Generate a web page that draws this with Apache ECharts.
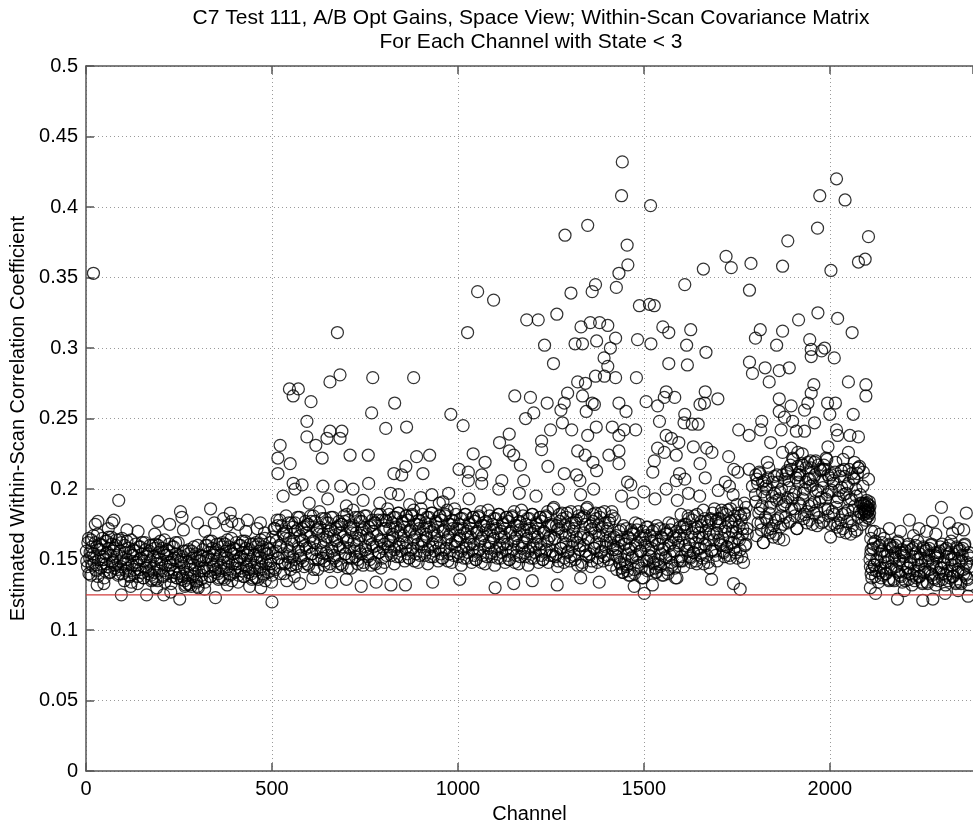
<!DOCTYPE html>
<html>
<head>
<meta charset="utf-8">
<script src="https://cdn.jsdelivr.net/npm/echarts@6/dist/echarts.min.js"></script>
<style>
html,body{margin:0;padding:0;background:#fff;}
#chart{width:973px;height:829px;}
</style>
</head>
<body>
<div id="chart"></div>
<script>
// ---------------- DATA (channel, estimated within-scan correlation coefficient) ----------------
const titleLines = ['C7 Test 111, A/B Opt Gains, Space View; Within-Scan Covariance Matrix', 'For Each Channel with State < 3'];
const xAxisTitle = 'Channel';
const yAxisTitle = 'Estimated Within-Scan Correlation Coefficient';
const thresholdValue = 0.125;

const bandSeg1 = [[1,.156],[4,.145],[7,.165],[10,.151],[13,.139],[16,.159],[19,.154],[22,.148],[25,.162],[28,.142],[31,.168],[34,.150],[37,.157],[40,.144],[43,.160],[46,.152],[49,.137],[52,.163],[55,.147],[58,.155],[61,.166],[64,.141],[67,.153],[70,.161],[73,.149],[76,.158],[79,.146],[82,.164],[85,.143],[88,.140],[91,.156],[94,.145],[97,.165],[100,.147],[103,.135],[106,.155],[109,.150],[112,.144],[115,.158],[118,.138],[121,.164],[124,.146],[127,.153],[130,.140],[133,.156],[136,.148],[139,.133],[142,.159],[145,.143],[148,.151],[151,.162],[154,.137],[157,.149],[160,.157],[163,.145],[166,.154],[169,.142],[172,.160],[175,.139],[178,.136],[181,.152],[184,.141],[187,.161],[190,.147],[193,.135],[196,.155],[199,.150],[202,.144],[205,.158],[208,.138],[211,.164],[214,.146],[217,.153],[220,.140],[223,.156],[226,.148],[229,.133],[232,.159],[235,.143],[238,.151],[241,.162],[244,.137],[247,.149],[250,.153],[253,.141],[256,.150],[259,.138],[262,.156],[265,.135],[268,.132],[271,.148],[274,.137],[277,.157],[280,.143],[283,.131],[286,.151],[289,.146],[292,.140],[295,.154],[298,.134],[301,.160],[304,.142],[307,.149],[310,.136],[313,.152],[316,.144],[319,.129],[322,.160],[325,.144],[328,.152],[331,.163],[334,.138],[337,.150],[340,.158],[343,.146],[346,.155],[349,.143],[352,.161],[355,.140],[358,.137],[361,.153],[364,.142],[367,.162],[370,.148],[373,.136],[376,.156],[379,.151],[382,.145],[385,.159],[388,.139],[391,.165],[394,.147],[397,.154],[400,.141],[403,.157],[406,.149],[409,.134],[412,.160],[415,.144],[418,.152],[421,.163],[424,.138],[427,.150],[430,.158],[433,.146],[436,.155],[439,.143],[442,.161],[445,.140],[448,.137],[451,.153],[454,.142],[457,.162],[460,.148],[463,.136],[466,.156],[469,.151],[472,.145],[475,.159],[478,.139],[481,.165],[484,.147],[487,.154],[490,.141],[493,.157],[496,.149],[499,.134]];

const bandSeg1b = [[2,.149],[5,.162],[8,.140],[11,.155],[14,.164],[17,.146],[20,.167],[23,.152],[26,.143],[29,.159],[32,.138],[35,.157],[38,.161],[41,.147],[44,.165],[47,.150],[50,.142],[53,.154],[56,.163],[59,.145],[62,.158],[65,.141],[68,.166],[71,.148],[74,.156],[77,.144],[80,.160],[83,.153],[86,.139],[89,.164],[92,.149],[95,.162],[98,.140],[101,.151],[104,.160],[107,.142],[110,.163],[113,.148],[116,.139],[119,.155],[122,.134],[125,.153],[128,.157],[131,.143],[134,.161],[137,.146],[140,.138],[143,.150],[146,.159],[149,.141],[152,.154],[155,.137],[158,.162],[161,.144],[164,.152],[167,.140],[170,.156],[173,.149],[176,.135],[179,.160],[182,.145],[185,.158],[188,.136],[191,.151],[194,.160],[197,.142],[200,.163],[203,.148],[206,.139],[209,.155],[212,.134],[215,.153],[218,.157],[221,.143],[224,.161],[227,.146],[230,.138],[233,.150],[236,.159],[239,.141],[242,.154],[245,.137],[248,.162],[251,.140],[254,.148],[257,.136],[260,.152],[263,.145],[266,.131],[269,.156],[272,.141],[275,.154],[278,.132],[281,.147],[284,.156],[287,.138],[290,.159],[293,.144],[296,.135],[299,.151],[302,.130],[305,.149],[308,.153],[311,.139],[314,.157],[317,.142],[320,.134],[323,.151],[326,.160],[329,.142],[332,.155],[335,.138],[338,.163],[341,.145],[344,.153],[347,.141],[350,.157],[353,.150],[356,.136],[359,.161],[362,.146],[365,.159],[368,.137],[371,.152],[374,.161],[377,.143],[380,.164],[383,.149],[386,.140],[389,.156],[392,.135],[395,.154],[398,.158],[401,.144],[404,.162],[407,.147],[410,.139],[413,.151],[416,.160],[419,.142],[422,.155],[425,.138],[428,.163],[431,.145],[434,.153],[437,.141],[440,.157],[443,.150],[446,.136],[449,.161],[452,.146],[455,.159],[458,.137],[461,.152],[464,.161],[467,.143],[470,.164],[473,.149],[476,.140],[479,.156],[482,.135],[485,.154],[488,.158],[491,.144],[494,.162],[497,.147],[500,.139]];

const bandSeg2 = [[502,.166],[505,.144],[508,.172],[511,.156],[514,.178],[517,.151],[520,.160],[523,.140],[526,.174],[529,.154],[532,.169],[535,.147],[538,.181],[541,.159],[544,.148],[547,.165],[550,.143],[553,.176],[556,.152],[559,.163],[562,.176],[565,.145],[568,.171],[571,.158],[574,.180],[577,.153],[580,.164],[583,.149],[586,.173],[589,.160],[592,.169],[595,.147],[598,.175],[601,.159],[604,.181],[607,.154],[610,.163],[613,.143],[616,.177],[619,.157],[622,.172],[625,.150],[628,.184],[631,.162],[634,.151],[637,.168],[640,.146],[643,.179],[646,.155],[649,.166],[652,.176],[655,.145],[658,.171],[661,.158],[664,.180],[667,.153],[670,.164],[673,.149],[676,.173],[679,.160],[682,.169],[685,.147],[688,.175],[691,.159],[694,.181],[697,.154],[700,.164],[703,.144],[706,.178],[709,.158],[712,.173],[715,.151],[718,.185],[721,.163],[724,.152],[727,.169],[730,.147],[733,.180],[736,.156],[739,.167],[742,.177],[745,.146],[748,.172],[751,.159],[754,.181],[757,.154],[760,.165],[763,.150],[766,.174],[769,.161],[772,.170],[775,.148],[778,.176],[781,.160],[784,.182],[787,.155],[790,.164],[793,.144],[796,.178],[799,.158]];

const bandSeg2b = [[503,.155],[506,.172],[509,.143],[512,.163],[515,.174],[518,.151],[521,.178],[524,.159],[527,.147],[530,.168],[533,.140],[536,.165],[539,.170],[542,.152],[545,.176],[548,.156],[551,.146],[554,.161],[557,.173],[560,.150],[563,.170],[566,.147],[569,.180],[572,.156],[575,.167],[578,.151],[581,.172],[584,.163],[587,.145],[590,.177],[593,.158],[596,.175],[599,.146],[602,.166],[605,.177],[608,.154],[611,.181],[614,.162],[617,.150],[620,.171],[623,.143],[626,.168],[629,.173],[632,.155],[635,.179],[638,.159],[641,.149],[644,.164],[647,.176],[650,.153],[653,.170],[656,.147],[659,.180],[662,.156],[665,.167],[668,.151],[671,.172],[674,.163],[677,.145],[680,.177],[683,.158],[686,.175],[689,.146],[692,.166],[695,.177],[698,.154],[701,.182],[704,.163],[707,.151],[710,.172],[713,.144],[716,.169],[719,.174],[722,.156],[725,.180],[728,.160],[731,.150],[734,.165],[737,.177],[740,.154],[743,.171],[746,.148],[749,.181],[752,.157],[755,.168],[758,.152],[761,.173],[764,.164],[767,.146],[770,.178],[773,.159],[776,.176],[779,.147],[782,.167],[785,.178],[788,.155],[791,.182],[794,.163],[797,.151],[800,.172]];

const bandSeg3 = [[802,.161],[805,.178],[808,.153],[811,.186],[814,.163],[817,.172],[820,.156],[823,.176],[826,.166],[829,.147],[832,.180],[835,.159],[838,.170],[841,.183],[844,.152],[847,.167],[850,.177],[853,.162],[856,.173],[859,.158],[862,.181],[865,.154],[868,.151],[871,.171],[874,.157],[877,.182],[880,.164],[883,.149],[886,.175],[889,.168],[892,.161],[895,.178],[898,.153],[901,.186],[904,.163],[907,.172],[910,.156],[913,.176],[916,.166],[919,.147],[922,.180],[925,.159],[928,.170],[931,.183],[934,.152],[937,.167],[940,.177],[943,.162],[946,.173],[949,.158],[952,.181],[955,.154],[958,.151],[961,.171],[964,.157],[967,.182],[970,.164],[973,.149],[976,.175],[979,.168],[982,.161],[985,.178],[988,.153],[991,.186],[994,.163],[997,.172],[1000,.155],[1003,.175],[1006,.165],[1009,.146],[1012,.179],[1015,.158],[1018,.169],[1021,.182],[1024,.151],[1027,.166],[1030,.176],[1033,.161],[1036,.172],[1039,.157],[1042,.180],[1045,.153],[1048,.150],[1051,.170],[1054,.156],[1057,.181],[1060,.163],[1063,.148],[1066,.174],[1069,.167],[1072,.160],[1075,.177],[1078,.152],[1081,.185],[1084,.162],[1087,.171],[1090,.155],[1093,.175],[1096,.165],[1099,.146],[1102,.179],[1105,.158],[1108,.169],[1111,.182],[1114,.151],[1117,.166],[1120,.176],[1123,.161],[1126,.172],[1129,.157],[1132,.180],[1135,.153],[1138,.150],[1141,.170],[1144,.156],[1147,.181],[1150,.163],[1153,.148],[1156,.174],[1159,.167],[1162,.160],[1165,.177],[1168,.152],[1171,.185],[1174,.162],[1177,.171],[1180,.155],[1183,.175],[1186,.165],[1189,.146],[1192,.179],[1195,.158],[1198,.169],[1201,.182],[1204,.151],[1207,.166],[1210,.176],[1213,.161],[1216,.172],[1219,.157],[1222,.180],[1225,.153],[1228,.150],[1231,.170],[1234,.156],[1237,.181],[1240,.163],[1243,.148],[1246,.174],[1249,.167]];

const bandSeg3b = [[803,.148],[806,.172],[809,.177],[812,.159],[815,.182],[818,.163],[821,.153],[824,.168],[827,.180],[830,.157],[833,.173],[836,.152],[839,.183],[842,.161],[845,.171],[848,.156],[851,.176],[854,.167],[857,.149],[860,.181],[863,.162],[866,.178],[869,.151],[872,.170],[875,.181],[878,.158],[881,.185],[884,.166],[887,.154],[890,.175],[893,.148],[896,.172],[899,.177],[902,.159],[905,.182],[908,.163],[911,.153],[914,.168],[917,.180],[920,.157],[923,.173],[926,.152],[929,.183],[932,.161],[935,.171],[938,.156],[941,.176],[944,.167],[947,.149],[950,.181],[953,.162],[956,.178],[959,.151],[962,.170],[965,.181],[968,.158],[971,.185],[974,.166],[977,.154],[980,.175],[983,.148],[986,.172],[989,.177],[992,.159],[995,.182],[998,.163],[1001,.152],[1004,.167],[1007,.179],[1010,.156],[1013,.172],[1016,.151],[1019,.182],[1022,.160],[1025,.170],[1028,.155],[1031,.175],[1034,.166],[1037,.148],[1040,.180],[1043,.161],[1046,.177],[1049,.150],[1052,.169],[1055,.180],[1058,.157],[1061,.184],[1064,.165],[1067,.153],[1070,.174],[1073,.147],[1076,.171],[1079,.176],[1082,.158],[1085,.181],[1088,.162],[1091,.152],[1094,.167],[1097,.179],[1100,.156],[1103,.172],[1106,.151],[1109,.182],[1112,.160],[1115,.170],[1118,.155],[1121,.175],[1124,.166],[1127,.148],[1130,.180],[1133,.161],[1136,.177],[1139,.150],[1142,.169],[1145,.180],[1148,.157],[1151,.184],[1154,.165],[1157,.153],[1160,.174],[1163,.147],[1166,.171],[1169,.176],[1172,.158],[1175,.181],[1178,.162],[1181,.152],[1184,.167],[1187,.179],[1190,.156],[1193,.172],[1196,.151],[1199,.182],[1202,.160],[1205,.170],[1208,.155],[1211,.175],[1214,.166],[1217,.148],[1220,.180],[1223,.161],[1226,.177],[1229,.150],[1232,.169],[1235,.180],[1238,.157],[1241,.184],[1244,.165],[1247,.153],[1250,.174]];

const bandSeg4 = [[1252,.175],[1255,.153],[1258,.187],[1261,.165],[1264,.154],[1267,.171],[1270,.149],[1273,.182],[1276,.158],[1279,.169],[1282,.179],[1285,.148],[1288,.174],[1291,.161],[1294,.183],[1297,.156],[1300,.167],[1303,.152],[1306,.176],[1309,.163],[1312,.172],[1315,.150],[1318,.178],[1321,.162],[1324,.184],[1327,.157],[1330,.166],[1333,.146],[1336,.180],[1339,.160],[1342,.175],[1345,.153],[1348,.187],[1351,.165],[1354,.154],[1357,.171],[1360,.149],[1363,.182],[1366,.158],[1369,.169],[1372,.179],[1375,.148],[1378,.174],[1381,.161],[1384,.183],[1387,.156],[1390,.167],[1393,.152],[1396,.176],[1399,.163],[1402,.172],[1405,.150],[1408,.178],[1411,.162],[1414,.184],[1417,.157],[1420,.166]];

const bandSeg4b = [[1253,.156],[1256,.186],[1259,.165],[1262,.152],[1265,.174],[1268,.145],[1271,.172],[1274,.177],[1277,.158],[1280,.183],[1283,.162],[1286,.151],[1289,.167],[1292,.180],[1295,.155],[1298,.173],[1301,.149],[1304,.184],[1307,.159],[1310,.170],[1313,.153],[1316,.176],[1319,.166],[1322,.146],[1325,.181],[1328,.160],[1331,.179],[1334,.148],[1337,.169],[1340,.181],[1343,.156],[1346,.186],[1349,.165],[1352,.152],[1355,.174],[1358,.145],[1361,.172],[1364,.177],[1367,.158],[1370,.183],[1373,.162],[1376,.151],[1379,.167],[1382,.180],[1385,.155],[1388,.173],[1391,.149],[1394,.184],[1397,.159],[1400,.170],[1403,.153],[1406,.176],[1409,.166],[1412,.146],[1415,.181],[1418,.160],[1421,.179]];

const bandSeg5 = [[1423,.157],[1426,.167],[1429,.152],[1432,.163],[1435,.148],[1438,.171],[1441,.144],[1444,.141],[1447,.161],[1450,.147],[1453,.172],[1456,.154],[1459,.139],[1462,.165],[1465,.158],[1468,.151],[1471,.168],[1474,.143],[1477,.176],[1480,.153],[1483,.162],[1486,.146],[1489,.166],[1492,.156],[1495,.137],[1498,.170],[1501,.149],[1504,.160],[1507,.173],[1510,.142],[1513,.157],[1516,.167],[1519,.152],[1522,.163],[1525,.148],[1528,.171],[1531,.144],[1534,.141],[1537,.161],[1540,.147],[1543,.172],[1546,.154],[1549,.139],[1552,.165],[1555,.158],[1558,.151],[1561,.168],[1564,.143],[1567,.176],[1570,.153],[1573,.162],[1576,.146],[1579,.166],[1582,.156],[1585,.137],[1588,.170],[1591,.149],[1594,.160],[1597,.173]];

const bandSeg5b = [[1424,.153],[1427,.143],[1430,.158],[1433,.170],[1436,.147],[1439,.164],[1442,.141],[1445,.174],[1448,.150],[1451,.161],[1454,.145],[1457,.166],[1460,.157],[1463,.139],[1466,.171],[1469,.152],[1472,.169],[1475,.140],[1478,.160],[1481,.171],[1484,.148],[1487,.175],[1490,.156],[1493,.144],[1496,.165],[1499,.137],[1502,.162],[1505,.167],[1508,.149],[1511,.173],[1514,.153],[1517,.143],[1520,.158],[1523,.170],[1526,.147],[1529,.164],[1532,.141],[1535,.174],[1538,.150],[1541,.161],[1544,.145],[1547,.166],[1550,.157],[1553,.139],[1556,.171],[1559,.152],[1562,.169],[1565,.140],[1568,.160],[1571,.171],[1574,.148],[1577,.175],[1580,.156],[1583,.144],[1586,.165],[1589,.137],[1592,.162],[1595,.167],[1598,.149]];

const bandSeg6 = [[1600,.182],[1603,.149],[1606,.165],[1609,.175],[1612,.160],[1615,.172],[1618,.156],[1621,.179],[1624,.152],[1627,.148],[1630,.169],[1633,.155],[1636,.181],[1639,.162],[1642,.147],[1645,.173],[1648,.166],[1651,.158],[1654,.177],[1657,.151],[1660,.185],[1663,.161],[1666,.170],[1669,.153],[1672,.174],[1675,.164],[1678,.144],[1681,.178],[1684,.157],[1687,.168],[1690,.186],[1693,.153],[1696,.169],[1699,.179],[1702,.164],[1705,.176],[1708,.160],[1711,.183],[1714,.156],[1717,.152],[1720,.173],[1723,.159],[1726,.185],[1729,.166],[1732,.151],[1735,.177],[1738,.170],[1741,.162],[1744,.181],[1747,.155],[1750,.189],[1753,.165],[1756,.174],[1759,.157],[1762,.178],[1765,.168],[1768,.148],[1771,.182],[1774,.161],[1777,.172]];

const bandSeg6b = [[1601,.152],[1604,.173],[1607,.145],[1610,.170],[1613,.175],[1616,.157],[1619,.181],[1622,.161],[1625,.151],[1628,.166],[1631,.178],[1634,.155],[1637,.172],[1640,.149],[1643,.182],[1646,.158],[1649,.169],[1652,.153],[1655,.174],[1658,.165],[1661,.147],[1664,.179],[1667,.160],[1670,.177],[1673,.148],[1676,.168],[1679,.179],[1682,.156],[1685,.183],[1688,.164],[1691,.156],[1694,.177],[1697,.149],[1700,.174],[1703,.179],[1706,.161],[1709,.185],[1712,.165],[1715,.155],[1718,.170],[1721,.182],[1724,.159],[1727,.176],[1730,.153],[1733,.186],[1736,.162],[1739,.173],[1742,.157],[1745,.178],[1748,.169],[1751,.151],[1754,.183],[1757,.164],[1760,.181],[1763,.152],[1766,.172],[1769,.183],[1772,.160],[1775,.187],[1778,.168]];

const bandSeg7 = [[1800,.196],[1803,.167],[1806,.204],[1809,.183],[1812,.211],[1815,.176],[1818,.188],[1821,.162],[1824,.206],[1827,.180],[1830,.200],[1833,.171],[1836,.215],[1839,.187],[1842,.172],[1845,.195],[1848,.166],[1851,.209],[1854,.178],[1857,.192],[1860,.205],[1863,.165],[1866,.198],[1869,.181],[1872,.210],[1875,.175],[1878,.189],[1881,.180],[1884,.211],[1887,.194],[1890,.206],[1893,.177],[1896,.214],[1899,.193],[1902,.221],[1905,.186],[1908,.198],[1911,.172],[1914,.216],[1917,.190],[1920,.210],[1923,.181],[1926,.225],[1929,.197],[1932,.182],[1935,.205],[1938,.176],[1941,.219],[1944,.188],[1947,.202],[1950,.215],[1953,.175],[1956,.208],[1959,.191],[1962,.220],[1965,.185],[1968,.199],[1971,.180],[1974,.214],[1977,.194],[1980,.206],[1983,.177],[1986,.214],[1989,.193],[1992,.221],[1995,.186],[1998,.198],[2001,.175],[2004,.210],[2007,.184],[2010,.204],[2013,.175],[2016,.219],[2019,.191],[2022,.176],[2025,.199],[2028,.170],[2031,.213],[2034,.182],[2037,.196],[2040,.209],[2043,.169],[2046,.202],[2049,.185],[2052,.214],[2055,.179],[2058,.193],[2061,.174],[2064,.208],[2067,.188],[2070,.200],[2073,.171],[2076,.215],[2079,.184],[2082,.196],[2085,.183],[2088,.190],[2090,.186],[2092,.182],[2093,.190],[2095,.185],[2096,.178],[2097,.188],[2098,.183],[2099,.192],[2100,.180],[2101,.187],[2102,.184],[2103,.189],[2104,.181],[2105,.186],[2106,.179],[2107,.183],[2108,.188]];

const bandSeg7b = [[1801,.191],[1804,.207],[1807,.176],[1810,.212],[1813,.186],[1816,.171],[1819,.198],[1822,.162],[1825,.195],[1828,.202],[1831,.178],[1834,.208],[1837,.183],[1840,.169],[1843,.190],[1846,.205],[1849,.174],[1852,.197],[1855,.168],[1858,.210],[1861,.179],[1864,.193],[1867,.173],[1870,.200],[1873,.188],[1876,.164],[1879,.207],[1882,.191],[1885,.213],[1888,.176],[1891,.201],[1894,.217],[1897,.186],[1900,.222],[1903,.196],[1906,.181],[1909,.208],[1912,.172],[1915,.205],[1918,.212],[1921,.188],[1924,.218],[1927,.193],[1930,.179],[1933,.200],[1936,.215],[1939,.184],[1942,.207],[1945,.178],[1948,.220],[1951,.189],[1954,.203],[1957,.183],[1960,.210],[1963,.198],[1966,.174],[1969,.217],[1972,.191],[1975,.213],[1978,.176],[1981,.201],[1984,.217],[1987,.186],[1990,.222],[1993,.196],[1996,.181],[1999,.208],[2002,.166],[2005,.199],[2008,.206],[2011,.182],[2014,.212],[2017,.187],[2020,.173],[2023,.194],[2026,.209],[2029,.178],[2032,.201],[2035,.172],[2038,.214],[2041,.183],[2044,.197],[2047,.177],[2050,.204],[2053,.192],[2056,.168],[2059,.211],[2062,.185],[2065,.207],[2068,.170],[2071,.195],[2074,.211],[2077,.180],[2080,.216],[2083,.190],[2086,.175],[2089,.202],[2091,.189],[2094,.184],[2100,.190],[2103,.185],[2106,.191]];

const bandSeg8 = [[2110,.154],[2113,.137],[2116,.158],[2119,.146],[2122,.163],[2125,.142],[2128,.149],[2131,.134],[2134,.160],[2137,.144],[2140,.156],[2143,.139],[2146,.165],[2149,.148],[2152,.140],[2155,.153],[2158,.136],[2161,.161],[2164,.143],[2167,.151],[2170,.159],[2173,.135],[2176,.155],[2179,.145],[2182,.162],[2185,.141],[2188,.150],[2191,.138],[2194,.157],[2197,.147],[2200,.152],[2203,.135],[2206,.156],[2209,.144],[2212,.161],[2215,.140],[2218,.147],[2221,.132],[2224,.158],[2227,.142],[2230,.154],[2233,.137],[2236,.163],[2239,.146],[2242,.138],[2245,.151],[2248,.134],[2251,.159],[2254,.141],[2257,.149],[2260,.157],[2263,.133],[2266,.153],[2269,.143],[2272,.160],[2275,.139],[2278,.148],[2281,.136],[2284,.155],[2287,.145],[2290,.152],[2293,.135],[2296,.156],[2299,.144],[2302,.161],[2305,.140],[2308,.147],[2311,.132],[2314,.158],[2317,.142],[2320,.154],[2323,.137],[2326,.163],[2329,.146],[2332,.138],[2335,.151],[2338,.134],[2341,.159],[2344,.141],[2347,.149],[2350,.157],[2353,.133],[2356,.153],[2359,.143],[2362,.160],[2365,.139],[2368,.148],[2371,.136],[2374,.155],[2377,.145],[2108,.150],[2109,.130],[2109,.145],[2110,.165],[2111,.140],[2112,.170]];

const bandSeg8b = [[2111,.157],[2114,.143],[2117,.161],[2120,.146],[2123,.138],[2126,.150],[2129,.159],[2132,.141],[2135,.154],[2138,.137],[2141,.162],[2144,.144],[2147,.152],[2150,.140],[2153,.156],[2156,.149],[2159,.135],[2162,.160],[2165,.145],[2168,.158],[2171,.136],[2174,.151],[2177,.160],[2180,.142],[2183,.163],[2186,.148],[2189,.139],[2192,.155],[2195,.134],[2198,.153],[2201,.155],[2204,.141],[2207,.159],[2210,.144],[2213,.136],[2216,.148],[2219,.157],[2222,.139],[2225,.152],[2228,.135],[2231,.160],[2234,.142],[2237,.150],[2240,.138],[2243,.154],[2246,.147],[2249,.133],[2252,.158],[2255,.143],[2258,.156],[2261,.134],[2264,.149],[2267,.158],[2270,.140],[2273,.161],[2276,.146],[2279,.137],[2282,.153],[2285,.132],[2288,.151],[2291,.155],[2294,.141],[2297,.159],[2300,.144],[2303,.136],[2306,.148],[2309,.157],[2312,.139],[2315,.152],[2318,.135],[2321,.160],[2324,.142],[2327,.150],[2330,.138],[2333,.154],[2336,.147],[2339,.133],[2342,.158],[2345,.143],[2348,.156],[2351,.134],[2354,.149],[2357,.158],[2360,.140],[2363,.161],[2366,.146],[2369,.137],[2372,.153],[2375,.132],[2378,.151]];

const bandEdgePoints = [[20,.353],[88,.192],[25,.175],[60,.172],[70,.176],[110,.171],[140,.170],[185,.168],[225,.175],[254,.184],[258,.180],[262,.171],[300,.176],[320,.170],[335,.186],[345,.176],[370,.179],[388,.183],[392,.177],[410,.175],[430,.170],[460,.172],[480,.169],[32,.177],[75,.178],[193,.177],[380,.174],[434,.178],[469,.176],
[95,.125],[163,.125],[209,.125],[228,.127],[252,.122],[348,.123],[30,.132],[48,.133],[120,.131],[190,.130],[275,.133],[300,.131],[380,.132],[440,.131],[470,.130],[500,.120],
[540,.135],[575,.133],[610,.137],[660,.134],[700,.136],[740,.131],[780,.134],[560,.138],[820,.132],[859,.132],[932,.134],[1100,.130],[1267,.132],[1005,.136],[1150,.133],[1200,.135],[1330,.137],[1380,.134],
[1474,.131],[1501,.126],[1523,.132],[1456,.142],[1741,.133],[1759,.129],[1682,.136],
[2120,.170],[2135,.168],[2160,.172],[2190,.170],[2214,.178],[2240,.172],[2260,.170],[2276,.177],[2300,.187],[2321,.176],[2345,.172],[2367,.183],[2225,.167],[2285,.168],[2330,.169],[2360,.171],
[2123,.126],[2182,.122],[2200,.128],[2250,.121],[2277,.122],[2310,.126],[2345,.128],[2372,.124]];

const outliers500to930 = [[676,.311],[547,.271],[571,.271],[557,.266],[656,.276],[683,.281],[771,.279],[881,.279],[605,.262],[830,.261],[768,.254],[594,.248],[806,.243],[862,.244],[656,.241],[688,.241],[648,.236],[683,.236],[594,.237],[618,.231],[522,.231],[516,.222],[549,.218],[516,.211],[635,.222],[710,.224],[759,.224],[889,.223],[860,.216],[828,.211],[849,.210],[906,.211],[924,.224],[557,.204],[581,.203],[637,.202],[685,.202],[718,.200],[760,.204],[819,.197],[562,.200],
[530,.195],[600,.190],[650,.193],[700,.188],[745,.192],[790,.190],[840,.196],[870,.189],[900,.194],[950,.190],[975,.197]];

const outliers930to1405 = [[1349,.387],[1288,.380],[1053,.340],[1096,.334],[1304,.339],[1361,.340],[1370,.345],[1026,.311],[1185,.320],[1216,.320],[1266,.324],[1331,.315],[1356,.318],[1381,.318],[1403,.316],[1233,.302],[1315,.303],[1335,.303],[1373,.305],[1257,.289],[1393,.293],
[1403,.287],[1370,.280],[1394,.280],[1322,.276],[1343,.275],[1153,.266],[1195,.265],[1240,.261],[1286,.261],[1295,.268],[1335,.266],[1361,.261],[1367,.260],[981,.253],[1014,.245],[1204,.254],[1182,.250],[1277,.256],[1345,.255],[1281,.247],[1306,.242],[1349,.238],[1372,.244],[1249,.242],[1138,.239],[1112,.233],[1138,.227],[1150,.224],[1168,.217],[1177,.206],[1225,.234],[1225,.228],[1242,.216],[1322,.227],[1342,.224],[1363,.219],[1373,.213],[1319,.210],[1328,.206],[1286,.211],[1041,.225],[1073,.219],[1003,.214],[1028,.212],[1028,.206],[1064,.210],[1118,.206],[1064,.204],
[930,.196],[960,.191],[1030,.193],[1110,.200],[1165,.197],[1210,.195],[1270,.200],[1330,.196],[1365,.200]];

const outliers1405to1860 = [[1442,.432],[1440,.408],[1518,.401],[1455,.373],[1457,.359],[1433,.353],[1426,.343],[1660,.356],[1721,.365],[1735,.357],[1788,.360],[1784,.341],[1610,.345],[1488,.330],[1515,.331],[1528,.330],[1551,.315],[1567,.311],[1626,.313],[1615,.302],[1483,.306],[1519,.303],[1667,.297],[1813,.313],[1800,.307],[1857,.302],[1424,.307],[1410,.300],
[1480,.279],[1567,.289],[1617,.288],[1784,.290],[1792,.282],[1826,.286],[1837,.276],[1424,.279],[1433,.261],[1452,.255],[1506,.262],[1537,.259],[1560,.269],[1583,.265],[1555,.265],[1610,.253],[1608,.247],[1630,.246],[1646,.246],[1665,.269],[1663,.261],[1651,.260],[1699,.264],[1542,.248],[1560,.238],[1574,.236],[1594,.233],[1555,.226],[1528,.220],[1524,.212],[1537,.229],[1587,.224],[1633,.230],[1669,.229],[1683,.226],[1651,.218],[1665,.208],[1478,.242],[1447,.242],[1433,.238],[1415,.244],[1406,.224],[1433,.227],[1433,.218],[1456,.205],[1465,.203],[1596,.211],[1587,.206],[1610,.207],[1728,.223],[1742,.214],[1753,.212],[1719,.205],[1730,.202],[1755,.242],[1783,.238],[1817,.248],[1814,.242],[1841,.233],[1783,.214],[1801,.210],[1819,.205],[1792,.202],[1832,.219],
[1440,.195],[1470,.190],[1500,.198],[1530,.193],[1560,.200],[1590,.192],[1620,.197],[1650,.195],[1700,.199],[1740,.196],[1770,.190]];

const outliers1860to2110 = [[2018,.420],[1973,.408],[2041,.405],[1967,.385],[1887,.376],[2104,.379],[2077,.361],[2095,.363],[1873,.358],[2003,.355],[1968,.325],[1916,.320],[2021,.321],[2060,.311],[1873,.312],[1946,.306],[1950,.299],[1978,.298],[1986,.300],[1950,.294],[2012,.293],
[1891,.286],[1864,.284],[2050,.276],[2097,.274],[2097,.266],[1957,.274],[1950,.268],[1941,.261],[1896,.259],[1864,.264],[1994,.261],[2015,.261],[2000,.253],[2063,.253],[1932,.256],[1959,.247],[1900,.248],[1878,.251],[1864,.255],[1869,.242],[2018,.242],[2021,.238],[2054,.238],[2077,.237],[1910,.241],[1932,.241],[1896,.229],[1873,.226],[1995,.230],[2050,.226],[2036,.221],[2066,.219],[2077,.215],[2090,.212],[2104,.207],[1914,.226],[1928,.217],[1959,.219],[1982,.214],[1995,.210],[1946,.207],[1914,.210],[1887,.212]];

const xTickStep = 500;
const yTickStep = 0.05;
const xRange = [0, 2385];
const yRange = [0, 0.5];

// ---------------- CHART ----------------
const allPoints = [].concat(
  bandSeg1, bandSeg1b, bandSeg2, bandSeg2b, bandSeg3, bandSeg3b, bandSeg4, bandSeg4b,
  bandSeg5, bandSeg5b, bandSeg6, bandSeg6b, bandSeg7, bandSeg7b, bandSeg8, bandSeg8b,
  bandEdgePoints, outliers500to930, outliers930to1405, outliers1405to1860, outliers1860to2110);

const thresholdLine = [[xRange[0], thresholdValue], [xRange[1], thresholdValue]];

const FONT = '"Liberation Sans", Arial, Helvetica, sans-serif';
const chart = echarts.init(document.getElementById('chart'), null, {renderer: 'canvas'});

const axisCol = '#555';
const gridStyle = {show: true, lineStyle: {color: '#9a9a9a', width: 1, type: [1, 3]}};
const plainNumber = v => String(v);

chart.setOption({
  animation: false,
  backgroundColor: '#fff',
  grid: {left: 85, right: -3, top: 66, bottom: 53, containLabel: false},
  graphic: [{
    type: 'text', x: 531, y: 6,
    style: {text: titleLines.join('\n'), font: '21px ' + FONT, fill: '#000', textAlign: 'center', textVerticalAlign: 'top', lineHeight: 24}
  }],
  xAxis: [{
    type: 'value', min: xRange[0], max: xRange[1], interval: xTickStep, position: 'bottom',
    name: xAxisTitle, nameLocation: 'middle', nameGap: 31,
    nameTextStyle: {fontFamily: FONT, fontSize: 20, color: '#000'},
    axisLine: {show: true, onZero: false, lineStyle: {color: axisCol, width: 1.5}},
    axisTick: {show: true, inside: true, length: 8, lineStyle: {color: axisCol, width: 1.5}},
    axisLabel: {fontFamily: FONT, fontSize: 20, color: '#000', margin: 8, showMaxLabel: false, formatter: plainNumber},
    splitLine: gridStyle
  }, {
    type: 'value', min: xRange[0], max: xRange[1], interval: xTickStep, position: 'top',
    axisLine: {show: true, onZero: false, lineStyle: {color: axisCol, width: 1.5}},
    axisTick: {show: true, inside: true, length: 8, lineStyle: {color: axisCol, width: 1.5}},
    axisLabel: {show: false}, splitLine: {show: false}
  }],
  yAxis: {
    type: 'value', min: yRange[0], max: yRange[1], interval: yTickStep,
    name: yAxisTitle, nameLocation: 'middle', nameGap: 58, nameRotate: 90,
    nameTextStyle: {fontFamily: FONT, fontSize: 20, color: '#000'},
    axisLine: {show: true, onZero: false, lineStyle: {color: axisCol, width: 1.5}},
    axisTick: {show: true, inside: true, length: 8, lineStyle: {color: axisCol, width: 1.5}},
    axisLabel: {fontFamily: FONT, fontSize: 20, color: '#000', margin: 8, formatter: v => String(+v.toFixed(2))},
    splitLine: gridStyle
  },
  series: [{
    type: 'scatter', xAxisIndex: 0, yAxisIndex: 0,
    data: allPoints,
    symbol: 'circle', symbolSize: 12,
    large: false, progressive: 0,
    itemStyle: {color: 'rgba(0,0,0,0)', borderColor: '#000', borderWidth: 1.25},
    emphasis: {disabled: true},
    z: 3
  }, {
    type: 'line', xAxisIndex: 0, yAxisIndex: 0,
    data: thresholdLine,
    symbol: 'none', silent: true,
    lineStyle: {color: '#d23c3c', width: 1.3, type: 'solid'},
    z: 4
  }]
});
</script>
</body>
</html>
